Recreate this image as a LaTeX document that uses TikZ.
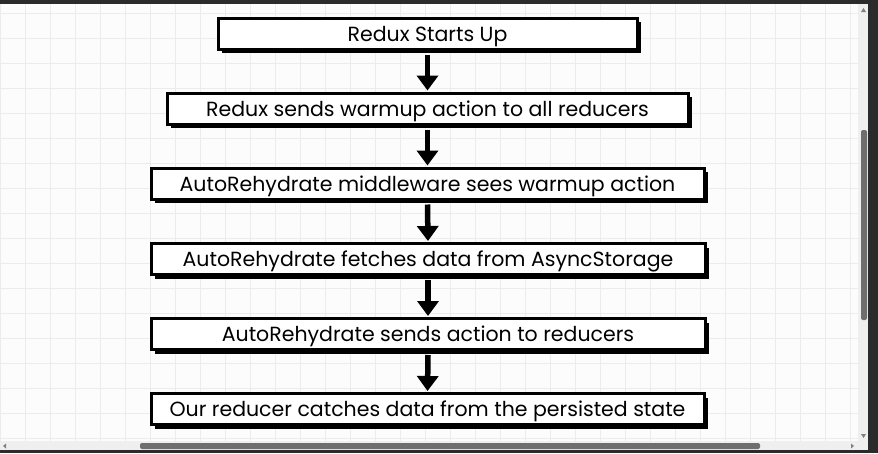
\documentclass[tikz,border=0pt]{standalone}
\usepackage{fontspec}
\setmainfont{Poppins}
\usetikzlibrary{arrows.meta,shadows}
\definecolor{bgc}{HTML}{FCFCFC}
\definecolor{gridc}{HTML}{ECECEC}
\definecolor{darkc}{HTML}{2B2B2B}
\definecolor{trackc}{HTML}{EFEFEF}
\definecolor{thumbc}{HTML}{6E6E6E}
\tikzset{
  stepbox/.style={draw=black, line width=3pt, fill=white, minimum height=31pt,
    inner sep=0pt, text height=17pt, text depth=2pt, font=\fontsize{20.5}{24}\selectfont,
    drop shadow={shadow xshift=4pt, shadow yshift=-4pt, opacity=1, fill=black}},
  flow/.style={line width=5.5pt, -{Triangle[width=21pt,length=15pt]}, shorten >=1pt},
}
\begin{document}
\begin{tikzpicture}[x=1pt,y=-1pt]
\useasboundingbox (0,0) rectangle (878,453);
\fill[bgc] (0,0) rectangle (878,453);
\foreach \gx in {0,25,...,850} \draw[gridc, line width=1pt] (\gx,4) -- (\gx,441);
\foreach \gy in {13,38,...,440} \draw[gridc, line width=1pt] (0,\gy) -- (858,\gy);
% window chrome
\fill[darkc] (0,0) rectangle (878,4);
\fill[darkc] (868,0) rectangle (878,453);
\fill[darkc] (0,450) rectangle (878,453);
\fill[trackc] (858,4) rectangle (868,441);
\fill[trackc] (0,441) rectangle (868,450);
\fill[thumbc, rounded corners=2pt] (861,130) rectangle (867,320);
\fill[thumbc, rounded corners=2pt] (140,443) rectangle (760,449);
\fill[gray] (861,12) -- (866,12) -- (863.5,8) -- cycle;
\fill[gray] (861,434) -- (866,434) -- (863.5,438) -- cycle;
\fill[gray] (6,443.5) -- (6,448.5) -- (3,446) -- cycle;
\fill[gray] (851,443.5) -- (851,448.5) -- (854,446) -- cycle;
% boxes
\node[stepbox, minimum width=419pt] (b1) at (427.5,33.5) {Redux Starts Up};
\node[stepbox, minimum width=521pt] (b2) at (427.5,108.5) {Redux sends warmup action to all reducers};
\node[stepbox, minimum width=553pt] (b3) at (427.5,183.5) {AutoRehydrate middleware sees warmup action};
\node[stepbox, minimum width=554pt] (b4) at (428,259) {AutoRehydrate fetches data from AsyncStorage};
\node[stepbox, minimum width=554pt] (b5) at (428,334) {AutoRehydrate sends action to reducers};
\node[stepbox, minimum width=553pt] (b6) at (427.5,409) {Our reducer catches data from the persisted state};
% arrows
\draw[flow] ([yshift=-4pt]b1.south) -- (b2.north);
\draw[flow] ([yshift=-4pt]b2.south) -- (b3.north);
\draw[flow] ([yshift=-4pt]b3.south) -- (b4.north);
\draw[flow] ([yshift=-4pt]b4.south) -- (b5.north);
\draw[flow] ([yshift=-4pt]b5.south) -- (b6.north);
\end{tikzpicture}
\end{document}
